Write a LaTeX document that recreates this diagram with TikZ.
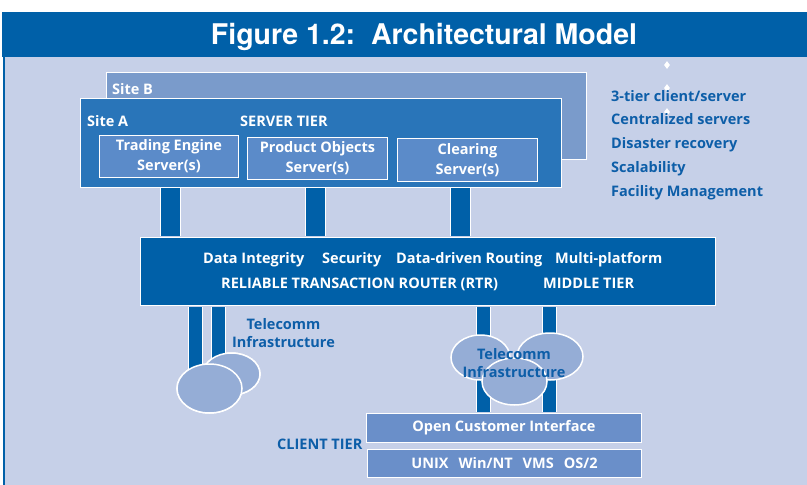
\documentclass[tikz,border=0pt]{standalone}
\usepackage{fontspec}
\setmainfont{Open Sans}
\newfontfamily\titlefont{TeX Gyre Heros}
\usetikzlibrary{shapes.geometric}

\definecolor{deepblue}{HTML}{0060A8}
\definecolor{paleback}{HTML}{C6D0E8}
\definecolor{siteBfill}{HTML}{7A9BCB}
\definecolor{siteAfill}{HTML}{2975B9}
\definecolor{srvfill}{HTML}{5B8BC9}
\definecolor{cloudfill}{HTML}{95ADD6}
\definecolor{clientfill}{HTML}{6A8FC9}
\definecolor{inkblue}{HTML}{0D5EA8}

\begin{document}
\begin{tikzpicture}[x=1pt,y=-1pt,
  font=\bfseries\fontsize{14.5}{20}\selectfont,
  panel/.style={draw=white, line width=1pt, inner sep=0pt, anchor=north west},
  label/.style={text=white, inner sep=0pt, anchor=base west},
  bluelabel/.style={text=inkblue, inner sep=0pt, anchor=base west},
  cloudtext/.style={text=inkblue, inner sep=0pt, anchor=base},
  cloud/.style={ellipse, draw=white, line width=1.5pt, fill=cloudfill, inner sep=0pt},
  widebar/.style={draw=white, line width=1pt, double=deepblue, double distance=19pt},
  thinbar/.style={draw=white, line width=1pt, double=deepblue, double distance=13pt},
  bullet/.style={diamond, fill=white, inner sep=0pt, minimum width=6pt, minimum height=8pt}]

% page and background
\useasboundingbox (0,0) rectangle (807,485);
\fill[white] (0,0) rectangle (807,485);
\fill[deepblue] (2,12) rectangle (807,57);
\fill[paleback] (3,57) rectangle (807,485);
\draw[deepblue, line width=1.5pt] (3.75,57) -- (3.75,485);
\node[text=white, inner sep=0pt, anchor=base] (title) at (424,44)
  {\titlefont\bfseries\fontsize{28.5}{30}\selectfont Figure 1.2:\ \ Architectural Model};

% feature list
\node[bullet] (d1) at (667,65) {};
\node[bullet] (d2) at (667,88) {};
\node[bullet] (d3) at (667,112) {};
\node[bluelabel] (f1) at (611,101) {3-tier client/server};
\node[bluelabel] (f2) at (611,124.5) {Centralized servers};
\node[bluelabel] (f3) at (611,148.5) {Disaster recovery};
\node[bluelabel] (f4) at (611,172.5) {Scalability};
\node[bluelabel] (f5) at (611,196.5) {Facility Management};

% bar positions
\coordinate (u1) at (170.5,0);
\coordinate (u2) at (315.5,0);
\coordinate (u3) at (460.5,0);
\coordinate (la) at (195.5,0);
\coordinate (lb) at (218.5,0);
\coordinate (lc) at (483.5,0);
\coordinate (ld) at (549.5,0);

% server tier
\node[panel, fill=siteBfill, minimum width=480pt, minimum height=87pt] (siteB) at (106,72) {};
\node[panel, fill=siteAfill, minimum width=481pt, minimum height=89pt] (siteA) at (80,98) {};
\node[label] (siteBlbl) at (112,94) {Site B};
\node[label] (siteAlbl) at (87,126) {Site A};
\node[label] (srvtier) at (240,126) {SERVER TIER};
\node[panel, fill=srvfill, minimum width=139pt, minimum height=42pt, text=white, align=center] (te) at (99,135)
  {Trading Engine\\Server(s)};
\node[panel, fill=srvfill, minimum width=140pt, minimum height=42pt, text=white, align=center] (po) at (247,137)
  {Product Objects\\Server(s)};
\node[panel, fill=srvfill, minimum width=140pt, minimum height=43pt, text=white, align=center] (cl) at (397,138)
  {Clearing\\Server(s)};

% links from the server tier down to the client tier
\node[panel, fill=deepblue, minimum width=575pt, minimum height=68pt] (rtr) at (140,237) {};
\node[panel, fill=clientfill, minimum width=275pt, minimum height=29pt, text=white] (oci) at (366,413)
  {Open Customer Interface};
\draw[widebar] (siteA.south -| u1) -- ([yshift=1pt]rtr.north -| u1);
\draw[widebar] (siteA.south -| u2) -- ([yshift=1pt]rtr.north -| u2);
\draw[widebar] (siteA.south -| u3) -- ([yshift=1pt]rtr.north -| u3);
\node[cloud, minimum width=57pt, minimum height=42pt] (tlb) at (231.5,374) {};
\node[cloud, minimum width=65pt, minimum height=49pt] (tlf) at (209.5,388.5) {};
\draw[thinbar] ([yshift=-1pt]rtr.south -| la) -- (la |- tlf.center);
\draw[thinbar] ([yshift=-1pt]rtr.south -| lb) -- (lb |- tlb.center);
\draw[thinbar] ([yshift=-1pt]rtr.south -| lc) -- ([yshift=1pt]oci.north -| lc);
\draw[thinbar] ([yshift=-1pt]rtr.south -| ld) -- ([yshift=1pt]oci.north -| ld);
% clouds are redrawn over the link ends
\node[cloud, minimum width=57pt, minimum height=42pt] (tlb') at (231.5,374) {};
\node[cloud, minimum width=65pt, minimum height=49pt] (tlf') at (209.5,388.5) {};
\node[cloud, minimum width=59pt, minimum height=45pt] (trl) at (480.5,357.5) {};
\node[cloud, minimum width=66pt, minimum height=47pt] (trr) at (550,356.5) {};
\node[cloud, minimum width=65pt, minimum height=47pt] (trb) at (514.5,381.5) {};

% middle tier labels
\node[label] (feat1) at (203,263) {Data Integrity};
\node[label] (feat2) at (322,263) {Security};
\node[label] (feat3) at (396,263) {Data-driven Routing};
\node[label] (feat4) at (555,263) {Multi-platform};
\node[label] (rtrname) at (221,288.5) {RELIABLE TRANSACTION ROUTER (RTR)};
\node[label] (midtier) at (543,288.5) {MIDDLE TIER};

% telecomm labels
\node[cloudtext] (tl1) at (283.5,329) {Telecomm};
\node[cloudtext] (tl2) at (283.5,347) {Infrastructure};
\node[cloudtext] (tr1) at (514,359) {Telecomm};
\node[cloudtext] (tr2) at (514,377) {Infrastructure};

% client tier
\node[panel, fill=clientfill, minimum width=274pt, minimum height=28pt, text=white] (os) at (367,449)
  {UNIX\hspace{10pt}Win/NT\hspace{10pt}VMS\hspace{10pt}OS/2};
\node[bluelabel] (clienttier) at (277,449) {CLIENT TIER};
\end{tikzpicture}
\end{document}
